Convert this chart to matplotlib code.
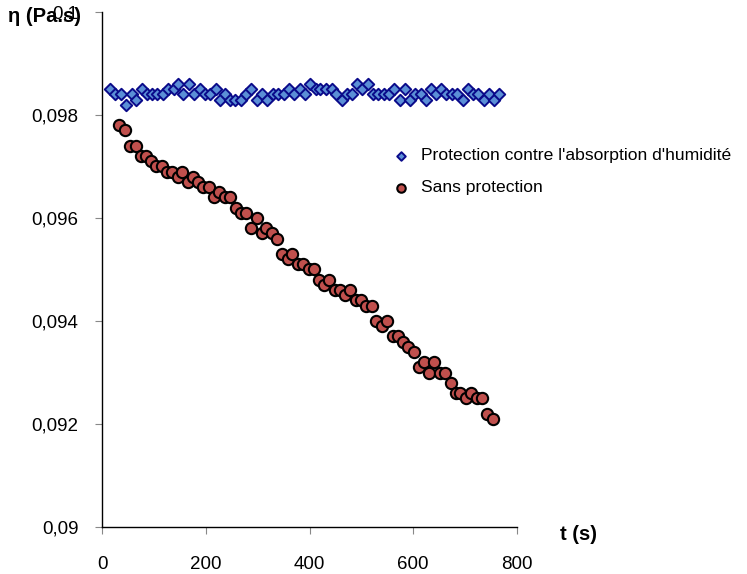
import matplotlib.pyplot as plt
from matplotlib.ticker import FuncFormatter

# Protection contre l'absorption d'humidite (blue diamonds)
t_prot = [15, 26, 36, 47, 57, 66, 78, 87, 97, 106, 117, 127, 138, 147, 157, 168,
          177, 188, 198, 208, 219, 228, 238, 247, 257, 267, 278, 287, 299, 308, 318, 330,
          340, 351, 361, 371, 381, 391, 401, 412, 421, 432, 443, 452, 462, 473, 482, 492,
          502, 513, 523, 533, 543, 553, 563, 574, 584, 593, 604, 614, 624, 634, 644, 654,
          664, 675, 684, 695, 705, 715, 725, 736, 746, 756, 765]
eta_prot = [0.0985, 0.0984, 0.0984, 0.0982, 0.0984, 0.0983, 0.0985, 0.0984, 0.0984, 0.0984,
            0.0984, 0.0985, 0.0985, 0.0986, 0.0984, 0.0986, 0.0984, 0.0985, 0.0984, 0.0984,
            0.0985, 0.0983, 0.0984, 0.0983, 0.0983, 0.0983, 0.0984, 0.0985, 0.0983, 0.0984,
            0.0983, 0.0984,
            0.0984, 0.0984, 0.0985, 0.0984, 0.0985, 0.0984, 0.0986, 0.0985, 0.0985, 0.0985,
            0.0985, 0.0984, 0.0983, 0.0984, 0.0984, 0.0986, 0.0985, 0.0986, 0.0984, 0.0984,
            0.0984, 0.0984, 0.0985, 0.0983, 0.0985, 0.0983, 0.0984, 0.0984, 0.0983, 0.0985,
            0.0984, 0.0985, 0.0984, 0.0984, 0.0984, 0.0983, 0.0985, 0.0984, 0.0984, 0.0983,
            0.0984, 0.0983, 0.0984]

# Sans protection (red circles)
t_sans = [33, 44, 54, 65, 75, 85, 94, 104, 115, 125, 135, 146, 155, 165, 176, 185, 195,
          206, 216, 226, 237, 247, 258, 267, 277, 287, 298, 308, 317, 327, 338, 347, 358,
          367, 378, 388, 399, 408, 418, 428, 438, 449, 459, 468, 479, 489, 499, 509, 520,
          529, 540, 550, 561, 571, 581, 590, 601, 611, 620, 631, 640, 651, 661, 672, 682,
          691, 701, 711, 722, 732, 742, 753]
eta_sans = [0.0978, 0.0977, 0.0974, 0.0974, 0.0972, 0.0972, 0.0971, 0.0970, 0.0970, 0.0969,
            0.0969, 0.0968, 0.0969, 0.0967, 0.0968, 0.0967, 0.0966, 0.0966, 0.0964, 0.0965,
            0.0964, 0.0964, 0.0962, 0.0961, 0.0961, 0.0958, 0.0960, 0.0957, 0.0958, 0.0957,
            0.0956, 0.0953, 0.0952, 0.0953, 0.0951, 0.0951, 0.0950, 0.0950, 0.0948, 0.0947,
            0.0948, 0.0946, 0.0946, 0.0945, 0.0946, 0.0944, 0.0944, 0.0943, 0.0943, 0.0940,
            0.0939, 0.0940, 0.0937, 0.0937, 0.0936, 0.0935, 0.0934, 0.0931, 0.0932, 0.0930,
            0.0932, 0.0930, 0.0930, 0.0928, 0.0926, 0.0926, 0.0925, 0.0926, 0.0925, 0.0925,
            0.0922, 0.0921]

x_ticks = [0, 200, 400, 600, 800]
y_ticks = [0.09, 0.092, 0.094, 0.096, 0.098, 0.1]

plt.rcParams['font.family'] = ['Liberation Sans', 'DejaVu Sans']
plt.rcParams['font.size'] = 13

fig = plt.figure(figsize=(7.47, 5.74), dpi=100)
ax = fig.add_axes([102 / 747, 1 - 527 / 574, (517 - 102) / 747, (527 - 12) / 574])

ax.scatter(t_prot, eta_prot, marker='D', s=34, color='#5b8fd6', edgecolors='#0a0a8a',
           linewidths=1.4, label="Protection contre l'absorption d'humidité", zorder=3)
ax.scatter(t_sans, eta_sans, marker='o', s=66, color='#c0504d', edgecolors='black',
           linewidths=1.5, label='Sans protection', zorder=3)

ax.set_xlim(0, 800)
ax.set_ylim(0.09, 0.1)
ax.set_xticks(x_ticks)
ax.set_yticks(y_ticks)
ax.yaxis.set_major_formatter(FuncFormatter(lambda v, p: ('%g' % round(v, 4)).replace('.', ',')))

for side in ['top', 'right']:
    ax.spines[side].set_visible(False)
for side in ['left', 'bottom']:
    ax.spines[side].set_linewidth(1.0)
ax.tick_params(axis='both', direction='out', length=5, color='#888888', labelsize=13.5)
ax.tick_params(axis='x', pad=16)
ax.tick_params(axis='y', pad=12)

fig.text(8 / 747, 1 - 17 / 574, 'η (Pa.s)', fontsize=14.5, fontweight='bold', va='center', ha='left')
fig.text(578 / 747, 1 - 535 / 574, 't (s)', fontsize=14.5, fontweight='bold', va='center', ha='center')

ax.legend(loc='upper left', bbox_to_anchor=(376 / 747, 1 - 141 / 574), bbox_transform=fig.transFigure,
          frameon=False, fontsize=12.6, handletextpad=0.15, labelspacing=0.95, markerscale=0.75,
          borderaxespad=0)

fig.savefig('out.png', dpi=100)
